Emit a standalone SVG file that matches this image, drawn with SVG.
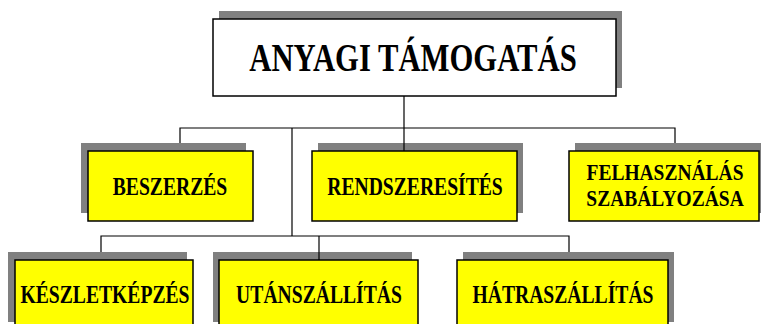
<svg xmlns="http://www.w3.org/2000/svg" width="761" height="324" viewBox="0 0 761 324">
<style>
.sh{fill:#808080}
.bx{fill:#ffff00;stroke:#000;stroke-width:1.5}
.tb{fill:#fff;stroke:#000;stroke-width:1.5}
.t{font-family:'Liberation Serif','Times New Roman','DejaVu Serif',serif;font-weight:700;font-size:25px;fill:#000;text-anchor:middle}
.tt{font-size:40px}
.ts{font-size:24px}
.c{fill:none;stroke:#000;stroke-width:1.2}
</style>
<rect width="761" height="324" fill="#fff"/>
<g id="n-title">
<rect class="sh" x="219" y="11" width="403" height="77"/>
<rect class="tb" x="213" y="19" width="403" height="77"/>
<text class="t tt" transform="translate(413 71) scale(0.767 1)">ANYAGI TÁMOGATÁS</text>
</g>
<g id="n-beszerzes">
<rect class="sh" x="81" y="143" width="165" height="70"/>
<rect class="bx" x="88" y="151" width="165" height="70"/>
<text class="t" transform="translate(170 195) scale(0.785 1)">BESZERZÉS</text>
</g>
<g id="n-rendszeresites">
<rect class="sh" x="318" y="143" width="205" height="70"/>
<rect class="bx" x="312" y="151" width="205" height="70"/>
<text class="t" transform="translate(415 195) scale(0.785 1)">RENDSZERESÍTÉS</text>
</g>
<g id="n-felhasznalas">
<rect class="sh" x="575" y="143" width="190" height="70"/>
<rect class="bx" x="569" y="151" width="190" height="70"/>
<text class="t ts" transform="translate(665 180) scale(0.812 1)">FELHASZNÁLÁS</text>
<text class="t ts" transform="translate(665 206) scale(0.812 1)">SZABÁLYOZÁSA</text>
</g>
<g id="n-keszletkepzes">
<rect class="sh" x="8" y="252" width="179" height="70"/>
<rect class="bx" x="15" y="260" width="178" height="70"/>
<text class="t" transform="translate(105 303) scale(0.785 1)">KÉSZLETKÉPZÉS</text>
</g>
<g id="n-utanszallitas">
<rect class="sh" x="213" y="252" width="199" height="70"/>
<rect class="bx" x="219" y="260" width="199" height="70"/>
<text class="t" transform="translate(319 303) scale(0.785 1)">UTÁNSZÁLLÍTÁS</text>
</g>
<g id="n-hatraszallitas">
<rect class="sh" x="463" y="252" width="211" height="70"/>
<rect class="bx" x="457" y="260" width="211" height="70"/>
<text class="t" transform="translate(563 303) scale(0.785 1)">HÁTRASZÁLLÍTÁS</text>
</g>
<g id="connectors">
<path class="c" d="M404 96V151"/>
<path class="c" d="M180 143V128H675V143"/>
<path class="c" d="M292 128V236"/>
<path class="c" d="M101 252V236H569V252"/>
<path class="c" d="M319 236V260"/>
</g>
</svg>
